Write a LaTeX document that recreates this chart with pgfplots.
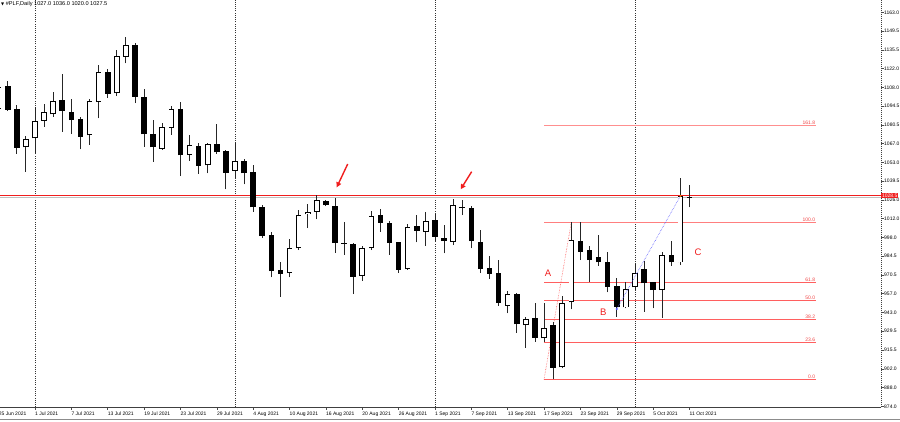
\documentclass[border=0pt]{standalone}
\usepackage{fontspec}
\setmainfont{Liberation Sans}
\newfontfamily\djv{DejaVu Sans}
\usepackage{pgfplots}
\pgfplotsset{compat=1.18}
\usepackage{pgfplotstable}
\usetikzlibrary{arrows.meta}
\definecolor{mtred}{RGB}{240,30,30}
\definecolor{fibred}{RGB}{255,95,95}
\definecolor{fibtext}{RGB}{240,70,70}
\definecolor{mtblue}{RGB}{90,90,255}

\pgfplotstableread{
i o h l c
-4 1091.9 1113.3 1089.9 1108.4
-3 1108.6 1112.8 1090.6 1091.7
-2 1091.9 1095.0 1059.1 1063.7
-1 1064.0 1072.3 1046.1 1069.8
0 1070.6 1093.5 1059.8 1083.3
1 1083.5 1095.7 1079.1 1089.6
2 1088.2 1104.8 1086.4 1097.9
3 1098.5 1117.5 1075.4 1090.6
4 1089.9 1099.4 1073.7 1084.0
5 1084.7 1086.0 1062.5 1071.8
6 1072.8 1099.4 1065.7 1097.9
7 1097.2 1124.3 1085.2 1119.0
8 1119.2 1121.4 1100.4 1103.3
9 1103.6 1135.3 1101.6 1130.9
10 1130.4 1145.1 1125.6 1139.0
11 1139.2 1140.3 1096.3 1101.1
12 1101.1 1106.5 1064.4 1073.5
13 1073.5 1084.0 1053.4 1064.0
14 1063.0 1081.6 1062.0 1078.6
15 1078.4 1094.5 1073.0 1092.1
16 1091.9 1097.0 1042.9 1058.1
17 1058.5 1073.0 1054.1 1065.7
18 1064.9 1066.9 1044.4 1050.3
19 1050.8 1067.3 1044.9 1066.2
20 1066.2 1081.1 1059.1 1060.3
21 1061.3 1062.0 1033.2 1045.3
22 1046.6 1066.9 1041.2 1054.1
23 1053.9 1055.2 1036.8 1044.9
24 1045.9 1051.0 1016.7 1020.0
25 1020.0 1021.7 997.5 998.9
26 999.4 1002.1 968.6 973.2
27 974.0 980.1 954.4 971.4
28 971.6 996.5 968.6 989.9
29 989.9 1018.0 988.6 1014.3
30 1014.8 1022.4 1004.6 1016.3
31 1016.7 1029.0 1011.2 1025.3
32 1024.6 1025.3 1020.9 1021.4
33 1020.9 1026.6 986.7 993.6
34 994.0 1009.0 985.0 993.1
35 992.8 994.0 956.2 969.1
36 969.6 991.6 966.1 989.9
37 989.9 1017.5 988.6 1013.6
38 1014.1 1018.7 1002.1 1008.7
39 1008.7 1010.1 985.0 993.6
40 994.3 994.7 972.0 974.0
41 974.5 1007.7 974.0 1005.3
42 1006.5 1014.3 994.3 1002.8
43 1002.1 1016.7 991.8 1009.9
44 1010.3 1015.4 995.2 998.4
45 997.7 1007.0 986.2 995.2
46 994.7 1026.1 992.3 1021.7
47 1020.2 1025.3 1014.3 1019.2
48 1019.7 1020.9 989.9 995.2
49 994.7 1003.3 971.6 974.7
50 975.2 984.2 967.4 971.3
51 971.8 981.3 947.8 949.6
52 947.6 958.6 942.2 956.4
53 956.2 957.1 928.0 934.1
54 933.6 939.3 917.0 937.8
55 938.5 950.0 921.4 924.3
56 923.9 949.6 921.4 931.2
57 933.6 936.1 893.8 902.3
58 902.6 954.9 901.9 949.6
59 950.3 1009.0 945.1 996.0
60 995.2 1009.5 981.3 987.4
61 988.6 991.6 965.0 981.3
62 983.5 999.6 977.1 979.6
63 979.6 987.4 957.6 961.7
64 962.2 968.3 939.7 946.8
65 946.6 965.4 945.9 960.0
66 961.3 978.2 959.3 971.6
67 974.5 980.8 943.4 964.2
68 965.0 965.2 945.9 959.3
69 959.3 987.4 939.0 985.0
70 985.0 995.2 977.1 979.6
71 979.6 1041.2 977.6 1028.0
72 1027.0 1036.0 1020.0 1027.5
}\candles
\pgfplotstablecreatecol[create col/expr={\thisrow{h}-\thisrow{l}}]{wk}\candles
\pgfplotstablecreatecol[create col/expr={min(\thisrow{o},\thisrow{c})}]{bl}\candles
\pgfplotstablecreatecol[create col/expr={max(abs(\thisrow{c}-\thisrow{o}),0.8)}]{bh}\candles
\pgfplotstablecreatecol[create col/expr={\thisrow{o}+0.6}]{wb}\candles
\pgfplotstablecreatecol[create col/expr={max(\thisrow{c}-\thisrow{o}-1.2,0)}]{wh}\candles

\begin{document}
\begin{tikzpicture}
\begin{axis}[
  at={(-1.36pt,0pt)}, anchor=north west,
  scale only axis, width=882.36pt, height=407.3pt,
  xmin=-4, xmax=93.07, ymin=873.26, ymax=1172.02,
  axis x line*=bottom, axis y line*=right,
  x axis line style={black!75, line width=0.7pt},
  y axis line style={black!75, dash pattern=on 1pt off 1pt, line width=0.6pt},
  clip=false,
  tick align=outside, major tick length=2.5pt,
  tick style={black!70, line width=0.5pt, solid},
  xtick={-4,0,...,72},
  xticklabels={25 Jun 2021,1 Jul 2021,7 Jul 2021,13 Jul 2021,19 Jul 2021,23 Jul 2021,29 Jul 2021,4 Aug 2021,10 Aug 2021,16 Aug 2021,20 Aug 2021,26 Aug 2021,1 Sep 2021,7 Sep 2021,13 Sep 2021,17 Sep 2021,23 Sep 2021,29 Sep 2021,5 Oct 2021,11 Oct 2021},
  xticklabel style={anchor=north west, inner sep=0pt, yshift=-1.8pt, font=\fontsize{5}{6}\selectfont},
  ytick={874,887.76,901.52,915.29,929.05,942.81,956.57,970.33,984.10,997.86,1011.62,1025.38,1039.14,1052.90,1066.67,1080.43,1094.19,1107.95,1121.71,1135.48,1149.24,1163},
  yticklabels={874.0,888.0,902.0,915.5,929.5,943.0,957.0,970.5,984.5,998.0,1012.0,1026.0,1039.5,1053.0,1067.0,1080.5,1094.5,1108.0,1122.0,1135.5,1149.5,1163.0},
  yticklabel style={anchor=west, inner sep=0pt, xshift=0.5pt, font=\fontsize{5}{6}\selectfont},
]
% month separators
\addplot[black!80, dash pattern=on 1pt off 1.2pt, line width=0.5pt] coordinates {(0,873.26) (0,1172.02)};
\addplot[black!80, dash pattern=on 1pt off 1.2pt, line width=0.5pt] coordinates {(22,873.26) (22,1172.02)};
\addplot[black!80, dash pattern=on 1pt off 1.2pt, line width=0.5pt] coordinates {(44,873.26) (44,1172.02)};
\addplot[black!80, dash pattern=on 1pt off 1.2pt, line width=0.5pt] coordinates {(66,873.26) (66,1172.02)};
% fibonacci levels
\addplot[fibred, line width=0.8pt] coordinates {(56,893.8) (85.9,893.8)};
\addplot[fibred, line width=0.8pt] coordinates {(56,920.99) (85.9,920.99)};
\addplot[fibred, line width=0.8pt] coordinates {(56,937.81) (85.9,937.81)};
\addplot[fibred, line width=0.8pt] coordinates {(56,951.4) (85.9,951.4)};
\addplot[fibred, line width=0.8pt] coordinates {(56,964.99) (85.9,964.99)};
\addplot[fibred!80, line width=0.8pt] coordinates {(56,1009.0) (85.9,1009.0)};
\addplot[fibred!70, line width=0.8pt] coordinates {(56,1080.19) (85.9,1080.19)};
\addplot[fibred, densely dotted, line width=0.6pt] coordinates {(56,893.8) (59,1009.0)};
% bid line and level line
\addplot[black!25, line width=0.5pt] coordinates {(-4,1027.3) (93.07,1027.3)};
\addplot[mtred, line width=1.4pt] coordinates {(-4,1028.6) (93.07,1028.6)};
% candles: wicks, bodies, white interiors
\addplot[black!85, line width=0.85pt, mark=none, quiver={u=0, v=\thisrow{wk}}] table[x=i, y=l] {\candles};
\addplot[black, line width=5.6pt, mark=none, quiver={u=0, v=\thisrow{bh}}] table[x=i, y=bl] {\candles};
\addplot[white, line width=4.0pt, mark=none, quiver={u=0, v=\thisrow{wh}}] table[x=i, y=wb] {\candles};
% wave lines
\addplot[mtblue, densely dotted, line width=0.6pt] coordinates {(64,945.4) (71,1028.3)};
\addplot[only marks, mark=*, mark size=0.9pt, mtblue] coordinates {(64,945.4)};
\addplot[only marks, mark=*, mark size=0.8pt, orange] coordinates {(71,1028.3)};
% arrows
\addplot[mtred, line width=1.4pt, -{Triangle[length=5pt,width=5pt]}] coordinates {(34.4,1051.7) (33.19,1034.6)};
\addplot[mtred, line width=1.4pt, -{Triangle[length=5pt,width=5pt]}] coordinates {(48.04,1046.1) (46.83,1033.2)};
% labels
\node[anchor=south east, text=fibtext, font=\fontsize{5}{6}\selectfont, inner sep=0.6pt] at (axis cs:85.9,893.8) {0.0};
\node[anchor=south east, text=fibtext, font=\fontsize{5}{6}\selectfont, inner sep=0.6pt] at (axis cs:85.9,920.99) {23.6};
\node[anchor=south east, text=fibtext, font=\fontsize{5}{6}\selectfont, inner sep=0.6pt] at (axis cs:85.9,937.81) {38.2};
\node[anchor=south east, text=fibtext, font=\fontsize{5}{6}\selectfont, inner sep=0.6pt] at (axis cs:85.9,951.4) {50.0};
\node[anchor=south east, text=fibtext, font=\fontsize{5}{6}\selectfont, inner sep=0.6pt] at (axis cs:85.9,964.99) {61.8};
\node[anchor=south east, text=fibtext, font=\fontsize{5}{6}\selectfont, inner sep=0.6pt] at (axis cs:85.9,1009.0) {100.0};
\node[anchor=south east, text=fibtext, font=\fontsize{5}{6}\selectfont, inner sep=0.6pt] at (axis cs:85.9,1080.19) {161.8};
\node[text=mtred, font=\fontsize{9.5}{10}\selectfont] at (axis cs:56.43,971.8) {A};
\node[text=mtred, font=\fontsize{9.5}{10}\selectfont] at (axis cs:62.53,942.8) {B};
\node[text=mtred, font=\fontsize{9.5}{10}\selectfont] at (axis cs:72.93,986.8) {C};
\node[fill=mtred, text=white, anchor=west, inner xsep=0.8pt, inner ysep=1pt, font=\fontsize{5}{6}\selectfont] at ({rel axis cs:1,0} |- {axis cs:0,1028.5}) {1028.5};
\end{axis}
\node[anchor=west, inner sep=0pt, font=\fontsize{5.6}{6}\selectfont] at (1pt,-4.5pt) {{\djv\fontsize{4}{5}\selectfont ▼}\ \#PLF,Daily 1027.0 1036.0 1020.0 1027.5};
\draw[black!45, line width=1pt] (0,-419.8pt) -- (900pt,-419.8pt);
\pgfresetboundingbox
\path[use as bounding box] (0,0) rectangle (900pt,-421pt);
\end{tikzpicture}
\end{document}
